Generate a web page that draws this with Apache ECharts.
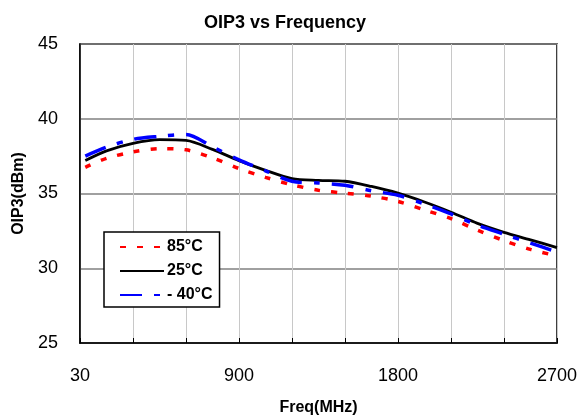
<!DOCTYPE html>
<html>
<head>
<meta charset="utf-8">
<script src="https://cdn.jsdelivr.net/npm/echarts@6/dist/echarts.min.js"></script>
<style>
  html, body { margin: 0; padding: 0; background: #fff; }
  #chart { width: 580px; height: 416px; }
</style>
</head>
<body>
<div id="chart"></div>
<script>
// Frequencies (MHz)
const freqs = [30, 150, 300, 450, 600, 750, 900, 1050, 1200, 1350, 1500, 1650, 1800, 1950, 2100, 2250, 2400, 2550, 2700];
// OIP3 (dBm) per temperature
const oip3_85C  = [36.75, 37.35, 37.78, 38.0, 37.92, 37.38, 36.67, 36.08, 35.58, 35.22, 35.02, 34.82, 34.47, 33.9, 33.32, 32.55, 31.85, 31.26, 30.82];
const oip3_25C  = [37.2, 37.85, 38.35, 38.6, 38.55, 37.95, 37.2, 36.55, 36.0, 35.88, 35.82, 35.47, 35.02, 34.43, 33.75, 33.0, 32.4, 31.9, 31.38];
const oip3_m40C = [37.5, 38.1, 38.62, 38.82, 38.95, 38.12, 37.25, 36.52, 35.82, 35.7, 35.55, 35.18, 34.88, 34.3, 33.63, 32.88, 32.28, 31.68, 31.09];
const seriesNames = ['85°C', '25°C', '- 40°C'];
// X tick labels: axis value -> label
const xTickValues = [0, 900, 1800, 2700];
const xTickLabels = ['30', '900', '1800', '2700'];

const FONT = 'Liberation Sans, Arial, sans-serif';
const pair = (arr) => freqs.map((f, i) => [f, arr[i]]);

const chart = echarts.init(document.getElementById('chart'));
chart.setOption({
  animation: false,
  backgroundColor: '#fff',
  title: {
    text: 'OIP3 vs Frequency',
    left: 199, top: 9,
    textStyle: { fontFamily: FONT, fontSize: 18, fontWeight: 'bold', color: '#000' }
  },
  grid: {
    left: 80, right: 23, top: 44, bottom: 73,
    outerBoundsMode: 'none', containLabel: false,
    show: true, borderColor: '#000', borderWidth: 1.5, backgroundColor: 'transparent'
  },
  legend: {
    orient: 'vertical',
    left: 104, top: 232,
    padding: [7, 7, 4, 15],
    itemWidth: 44, itemHeight: 14, itemGap: 8,
    borderColor: '#000', borderWidth: 1.5,
    backgroundColor: '#fff',
    itemStyle: { opacity: 0 },
    textStyle: { fontFamily: FONT, fontSize: 16, fontWeight: 'bold', color: '#000', padding: [0, 0, 0, -2] },
    data: seriesNames
  },
  xAxis: {
    type: 'value',
    min: 0, max: 2700, interval: 300,
    name: 'Freq(MHz)', nameLocation: 'middle', nameGap: 57,
    nameTextStyle: { fontFamily: FONT, fontSize: 16, fontWeight: 'bold', color: '#000' },
    axisLine: { show: true, lineStyle: { color: '#000', width: 1.5 } },
    axisTick: { show: true, inside: true, length: 5, lineStyle: { color: '#000', width: 1 } },
    axisLabel: {
      margin: 24, fontFamily: FONT, fontSize: 18, color: '#000',
      formatter: (v) => { const k = xTickValues.indexOf(v); return k >= 0 ? xTickLabels[k] : ''; }
    },
    splitLine: { show: true, lineStyle: { color: '#c8c8c8', width: 1 } }
  },
  yAxis: {
    type: 'value',
    min: 25, max: 45, interval: 5,
    name: 'OIP3(dBm)', nameLocation: 'middle', nameGap: 52, nameRotate: 90,
    nameTextStyle: { fontFamily: FONT, fontSize: 16, fontWeight: 'bold', color: '#000' },
    axisLine: { show: true, lineStyle: { color: '#000', width: 1.5 } },
    axisTick: { show: false },
    axisLabel: { margin: 22, fontFamily: FONT, fontSize: 18, color: '#000' },
    splitLine: { show: true, lineStyle: { color: '#808080', width: 1.5 } }
  },
  series: [
    {
      name: seriesNames[0], type: 'line', data: pair(oip3_85C),
      smooth: 0.3, showSymbol: false,
      itemStyle: { color: '#ff0000' },
      lineStyle: { color: '#ff0000', width: 3.5, type: [6, 11] },
      z: 3
    },
    {
      name: seriesNames[1], type: 'line', data: pair(oip3_25C),
      smooth: 0.3, showSymbol: false,
      itemStyle: { color: '#000000' },
      lineStyle: { color: '#000000', width: 2.8, type: 'solid' },
      z: 4
    },
    {
      name: seriesNames[2], type: 'line', data: pair(oip3_m40C),
      smooth: 0.3, showSymbol: false,
      itemStyle: { color: '#0000ff' },
      lineStyle: { color: '#0000ff', width: 3.5, type: [22, 12, 6, 12] },
      z: 5
    }
  ]
});
</script>
</body>
</html>
